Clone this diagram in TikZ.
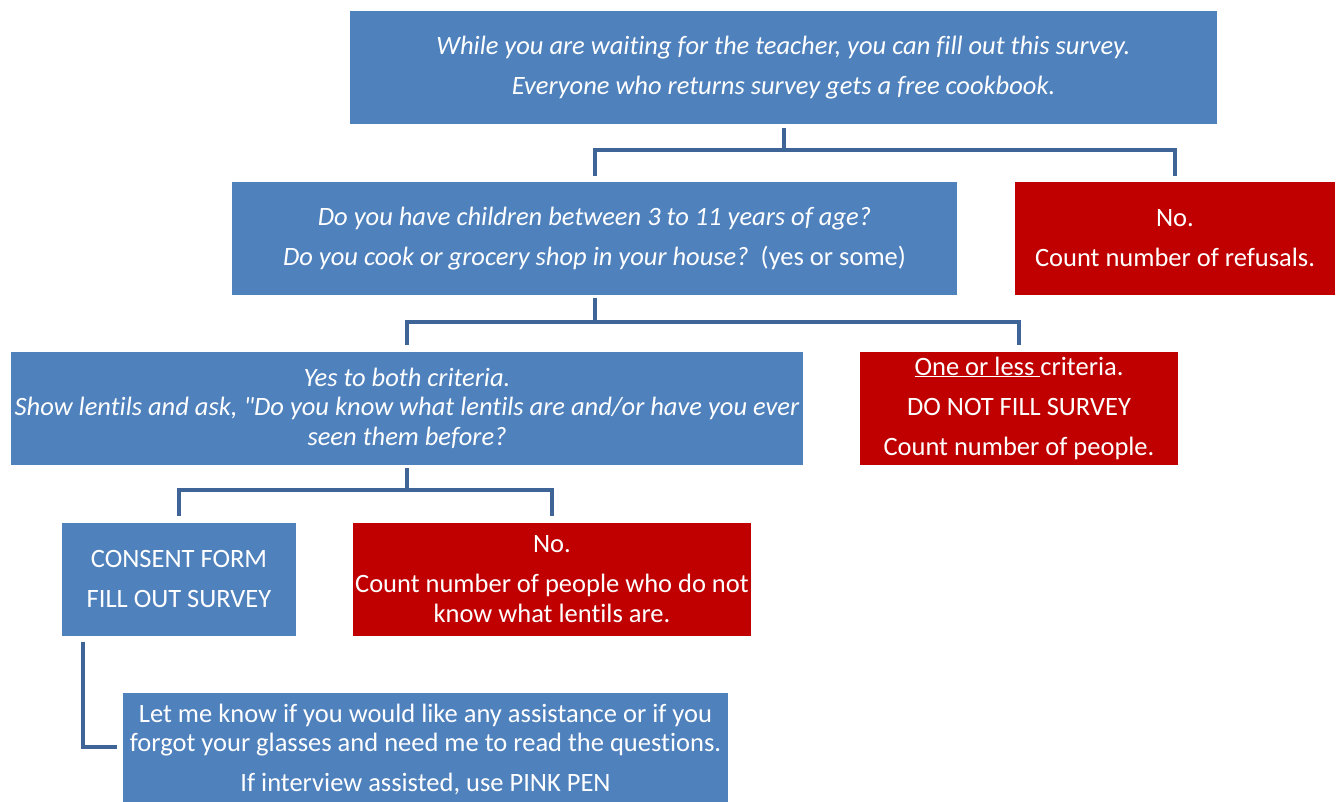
\documentclass[tikz,border=0pt]{standalone}
\usepackage{fontspec}
\setmainfont{Carlito}[Ligatures={TeX,NoCommon}]
\usetikzlibrary{calc}
\definecolor{boxblue}{RGB}{79,129,189}
\definecolor{boxred}{RGB}{192,0,0}
\definecolor{connblue}{RGB}{62,100,152}
\tikzset{
  box/.style={rectangle, minimum height=113pt, inner sep=0pt, align=center, text=white,
    font=\fontsize{26.5}{29.5}\selectfont},
  bluebox/.style={box, fill=boxblue},
  redbox/.style={box, fill=boxred},
  conn/.style={draw=connblue, line width=4pt}
}
\begin{document}
\begin{tikzpicture}[x=1pt,y=-1pt]
\useasboundingbox (0,0) rectangle (1343,802);
\clip (0,0) rectangle (1343,802);
\node[bluebox, minimum width=867pt] (top) at (783.5,68)
  {\itshape While you are waiting for the teacher, you can fill out this survey.\\[10.5pt]
   \itshape Everyone who returns survey gets a free cookbook.};
\node[bluebox, minimum width=725pt] (q1) at (594.5,238.5)
  {\itshape Do you have children between 3 to 11 years of age?\\[10.5pt]
   {\itshape Do you cook or grocery shop in your house?}\ \ (yes or some)};
\node[redbox, minimum width=320pt] (r1) at (1175,238.5)
  {No.\\[10.5pt] Count number of refusals.};
\node[bluebox, minimum width=792pt] (yes) at (407,408)
  {\itshape Yes to both criteria.\\
   \itshape Show lentils and ask, \textquotedbl Do you know what lentils are and/or have you ever\\
   \itshape seen them before?};
\node[redbox, minimum width=318pt] (r2) at (1019,408)
  {\underline{One or less }criteria.\\[10.5pt] DO NOT FILL SURVEY\\[10.5pt] Count number of people.};
\node[bluebox, minimum width=234pt] (cons) at (179,579)
  {CONSENT FORM\\[10.5pt] FILL OUT SURVEY};
\node[redbox, minimum width=398pt] (r3) at (552,579)
  {No.\\[10.5pt] Count number of people who do not\\ know what lentils are.};
\node[bluebox, minimum width=605pt] (last) at (425.5,749.5)
  {Let me know if you would like any assistance or if you\\
   forgot your glasses and need me to read the questions.\\[10.5pt]
   If interview assisted, use PINK PEN};
\coordinate (bar1) at (0,150);
\coordinate (bar2) at (0,322);
\coordinate (bar3) at (0,490);
\draw[conn] ($(top.south)+(0,3)$) -- (top.south |- bar1);
\draw[conn] ($(q1.north)+(0,-6)$) -- (q1.north |- bar1) -- (r1.north |- bar1) -- ($(r1.north)+(0,-6)$);
\draw[conn] ($(q1.south)+(0,3)$) -- (q1.south |- bar2);
\draw[conn] ($(yes.north)+(0,-6)$) -- (yes.north |- bar2) -- (r2.north |- bar2) -- ($(r2.north)+(0,-6)$);
\draw[conn] ($(yes.south)+(0,3)$) -- (yes.south |- bar3);
\draw[conn] ($(cons.north)+(0,-6)$) -- (cons.north |- bar3) -- (r3.north |- bar3) -- ($(r3.north)+(0,-6)$);
\draw[conn] ($(cons.south west)+(21,6)$) |- ($(last.west)+(-6,-2.5)$);
\end{tikzpicture}
\end{document}
